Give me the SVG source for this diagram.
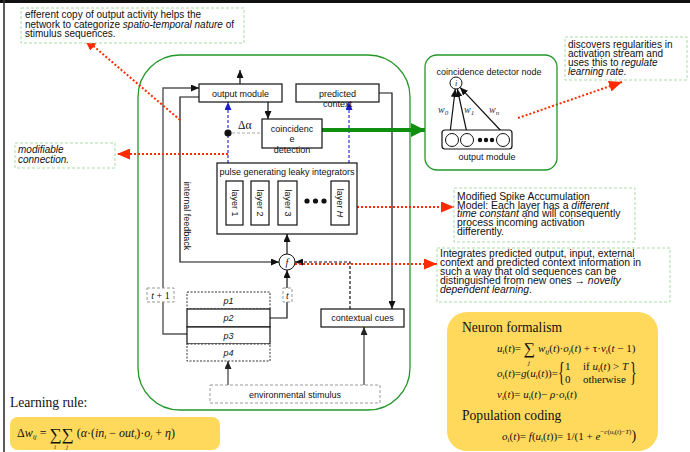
<svg xmlns="http://www.w3.org/2000/svg" width="690" height="452" viewBox="0 0 690 452">
<defs>
<style>
.lbl{font-family:"Liberation Sans",Arial,sans-serif;font-size:9px;fill:#111}
.co{font-family:"Liberation Sans",Arial,sans-serif;font-size:10px;fill:#111}
.co2{font-family:"Liberation Sans",Arial,sans-serif;font-size:10.4px;fill:#111}
.box{fill:#fff;stroke:#111;stroke-width:1.2}
.dbox{fill:#fff;stroke:#333;stroke-width:1;stroke-dasharray:2 1.5}
.gbox{fill:#fff;stroke:#999;stroke-width:1;stroke-dasharray:3 2}
.call{fill:#fff;stroke:#a9dca9;stroke-width:1;stroke-dasharray:3 2}
.frame{fill:none;stroke:#23982a;stroke-width:1.3}
.eq{font-family:"Liberation Serif","Times New Roman",serif;font-size:11px;fill:#111}
.ttl{font-family:"Liberation Serif","Times New Roman",serif;font-size:13.6px;fill:#111}
.it{font-style:italic}
.sb{font-size:7px}
.red{stroke:#ff2a00;stroke-width:2;stroke-dasharray:2 2;fill:none}
.blu{stroke:#1c1cd0;stroke-width:1.1;stroke-dasharray:3 2;fill:none}
.ln{stroke:#111;stroke-width:1.2;fill:none}
.gl{stroke:#555;stroke-width:1.4;fill:none}
.yel{fill:#FFD95C;stroke:none}
</style>
<marker id="ab" viewBox="0 0 8 7" refX="8" refY="3.5" markerWidth="8" markerHeight="7" markerUnits="userSpaceOnUse" orient="auto"><path d="M0,0 L8,3.5 L0,7 z" fill="#111"/></marker>
<marker id="ag" viewBox="0 0 8 7" refX="8" refY="3.5" markerWidth="8" markerHeight="7" markerUnits="userSpaceOnUse" orient="auto"><path d="M0,0 L8,3.5 L0,7 z" fill="#222"/></marker>
<marker id="abl" viewBox="0 0 8 7" refX="8" refY="3.5" markerWidth="8" markerHeight="7" markerUnits="userSpaceOnUse" orient="auto"><path d="M0,0 L8,3.5 L0,7 z" fill="#1c1cd0"/></marker>
<marker id="ar" viewBox="0 0 13 11" refX="13" refY="5.5" markerWidth="13" markerHeight="11" markerUnits="userSpaceOnUse" orient="auto"><path d="M0,0 L13,5.5 L0,11 z" fill="#ff2a00"/></marker>
<marker id="agr" viewBox="0 0 14 14" refX="14" refY="7" markerWidth="14" markerHeight="14" markerUnits="userSpaceOnUse" orient="auto"><path d="M0,0 L14,7 L0,14 z" fill="#0f8f0f"/></marker>
</defs>
<rect x="0" y="0" width="690" height="452" fill="#fff"/>
<rect x="0" y="0" width="690" height="3" fill="#111"/>
<line x1="4" y1="0" x2="4" y2="452" stroke="#333" stroke-width="1.6"/>

<g id="frame"><rect class="frame" x="138" y="55" width="272" height="355" rx="42"/></g>

<g id="connectors">
<path class="ln" d="M240,84 L240,70" marker-end="url(#ab)"/>
<path class="ln" d="M268,102 L268,119" marker-end="url(#ab)"/>
<path class="ln" d="M379,93 L392,93 L392,309" marker-end="url(#ab)"/>
<path class="ln" d="M199,97 L180,97 L180,262 L279,262" marker-end="url(#ab)"/>
<path class="gl" d="M187,334 L163,334 L163,88 L199,88" marker-end="url(#ab)"/>
<path class="ln" d="M270,318 L287,318 L287,270" marker-end="url(#ab)"/>
<path class="ln" d="M287,254 L287,234" marker-end="url(#ab)"/>
<path class="ln" d="M350,309 L350,262 L295,262" stroke-dasharray="3 2" marker-end="url(#ab)"/>
<path class="gl" d="M228,385 L228,361" marker-end="url(#ag)"/>
<path class="gl" d="M364,385 L364,327" marker-end="url(#ag)"/>
<path class="blu" d="M228,163 L228,102" marker-end="url(#abl)"/>
<path class="blu" d="M349,163 L349,102" marker-end="url(#abl)"/>
<path d="M232,133 L261,133" stroke="#aaa" stroke-width="1" stroke-dasharray="3 2" fill="none"/>
<circle cx="228" cy="133" r="3.6" fill="#111"/>
<path d="M314,130 L425,130" stroke="#0f8f0f" stroke-width="4" fill="none" marker-end="url(#agr)"/>
<path class="red" d="M180,120 L84,38" marker-end="url(#ar)"/>
<path class="red" d="M228,154 L117,154" marker-end="url(#ar)"/>
<path class="red" d="M349,207 L454,207" marker-end="url(#ar)"/>
<path class="red" d="M291,264 L437,264" marker-end="url(#ar)"/>
<path class="red" d="M518,118 L622,82" marker-end="url(#ar)"/>
<path class="ln" d="M450,133 L455.3,89" marker-end="url(#ab)"/>
<path class="ln" d="M467,133 L457.3,89" marker-end="url(#ab)"/>
<path class="ln" d="M503,133 L460.1,87.4" marker-end="url(#ab)"/>
</g>

<g id="callout-efferent">
<rect class="call" x="21" y="8" width="223" height="35"/>
<text class="co"><tspan x="25" y="18">efferent copy of output activity helps the</tspan><tspan x="25" y="27.5">network to categorize </tspan><tspan class="it">spatio-temporal nature</tspan><tspan> of</tspan><tspan x="25" y="37">stimulus sequences.</tspan></text>
</g>
<g id="callout-modifiable">
<rect class="call" x="15" y="143" width="100" height="25"/>
<text class="co it"><tspan x="18" y="153">modifiable</tspan><tspan x="18" y="163">connection.</tspan></text>
</g>
<g id="callout-discovers">
<rect class="call" x="565" y="37" width="122" height="43"/>
<text class="co"><tspan x="568" y="48">discovers regularities in</tspan><tspan x="568" y="57">activation stream and</tspan><tspan x="568" y="66">uses this to </tspan><tspan class="it">regulate</tspan><tspan class="it" x="568" y="75">learning rate</tspan><tspan>.</tspan></text>
</g>
<g id="callout-msam">
<rect class="call" x="454" y="188" width="181" height="54"/>
<text class="co2"><tspan x="457" y="200">Modified Spike Accumulation</tspan><tspan x="457" y="208.7">Model: Each layer has a </tspan><tspan class="it">different</tspan><tspan class="it" x="457" y="217.4">time constant</tspan><tspan> and will consequently</tspan><tspan x="457" y="226.1">process incoming activation</tspan><tspan x="457" y="234.8">differently.</tspan></text>
</g>
<g id="callout-integrates">
<rect class="call" x="437" y="248" width="233" height="54"/>
<text class="co2"><tspan x="440" y="257">Integrates predicted output, input, external</tspan><tspan x="440" y="266">context and predicted context information in</tspan><tspan x="440" y="275">such a way that old sequences can be</tspan><tspan x="440" y="284">distinguished from new ones → </tspan><tspan class="it">novelty</tspan><tspan class="it" x="440" y="293">dependent learning</tspan><tspan>.</tspan></text>
</g>

<g id="output-module">
<rect class="box" x="199" y="84" width="83" height="18"/>
<text class="lbl" x="240.5" y="97" text-anchor="middle">output module</text>
</g>
<g id="predicted-context">
<rect class="box" x="296" y="84" width="83" height="18"/>
<text class="lbl" text-anchor="middle"><tspan x="337.5" y="97">predicted</tspan><tspan x="337.5" y="107">context</tspan></text>
</g>
<g id="coincidence-detection">
<rect class="box" x="262" y="119" width="60" height="29"/>
<text class="lbl" text-anchor="middle"><tspan x="292" y="132">coincidenc</tspan><tspan x="292" y="142">e</tspan><tspan x="292" y="152.5">detection</tspan></text>
</g>
<text x="238" y="129" font-family="Liberation Serif,serif" font-size="11.5" fill="#111">Δα</text>

<g id="pulse-integrators">
<rect class="box" x="217" y="163" width="140" height="71"/>
<text class="lbl" x="287" y="175" text-anchor="middle">pulse generating leaky  integrators</text>
<rect class="box" x="226" y="181" width="17" height="44"/>
<rect class="box" x="251" y="181" width="18" height="44"/>
<rect class="box" x="278" y="181" width="19" height="44"/>
<rect class="box" x="331" y="181" width="18" height="44"/>
<text class="lbl" transform="translate(234.5,203) rotate(90)" text-anchor="middle" dominant-baseline="central">layer 1</text>
<text class="lbl" transform="translate(260,203) rotate(90)" text-anchor="middle" dominant-baseline="central">layer 2</text>
<text class="lbl" transform="translate(287.5,203) rotate(90)" text-anchor="middle" dominant-baseline="central">layer 3</text>
<text class="lbl" transform="translate(340,203) rotate(90)" text-anchor="middle" dominant-baseline="central">layer <tspan class="it">H</tspan></text>
<circle cx="307" cy="201" r="2.6" fill="#111"/>
<circle cx="315.5" cy="201" r="2.6" fill="#111"/>
<circle cx="324" cy="201" r="2.6" fill="#111"/>
</g>

<text class="lbl" transform="translate(187,216) rotate(90)" text-anchor="middle" dominant-baseline="central">internal feedback</text>

<g id="f-node">
<circle cx="287" cy="262" r="8" fill="#fff" stroke="#111" stroke-width="1"/>
<text x="287" y="265.5" text-anchor="middle" font-family="Liberation Serif,serif" font-style="italic" font-size="10" fill="#111">f</text>
</g>

<g id="t1-label">
<rect class="gbox" x="147" y="288" width="27" height="14"/>
<text x="160.5" y="298.5" text-anchor="middle" font-family="Liberation Serif,serif" font-size="10" fill="#111"><tspan class="it">t</tspan> + 1</text>
</g>
<g id="t-label">
<rect class="gbox" x="283" y="288" width="9" height="14"/>
<text x="287.5" y="298.5" text-anchor="middle" font-family="Liberation Serif,serif" font-style="italic" font-size="10" fill="#111">t</text>
</g>

<g id="p-stack">
<rect class="dbox" x="187" y="292" width="83" height="17"/>
<rect class="box" x="187" y="309" width="83" height="18"/>
<rect class="box" x="187" y="327" width="83" height="17"/>
<rect class="dbox" x="187" y="344" width="83" height="17"/>
<text class="lbl it" x="228.5" y="304" text-anchor="middle">p1</text>
<text class="lbl it" x="228.5" y="321" text-anchor="middle">p2</text>
<text class="lbl it" x="228.5" y="339" text-anchor="middle">p3</text>
<text class="lbl it" x="228.5" y="356" text-anchor="middle">p4</text>
</g>

<g id="contextual-cues">
<rect class="box" x="321" y="309" width="83" height="18"/>
<text class="lbl" x="362.5" y="321" text-anchor="middle">contextual cues</text>
</g>
<g id="environmental-stimulus">
<rect class="gbox" x="210" y="385" width="170" height="18"/>
<text class="lbl" x="295" y="397.5" text-anchor="middle">environmental stimulus</text>
</g>

<g id="detector-panel">
<rect class="frame" x="425" y="55" width="132" height="115" rx="12"/>
<text class="lbl" x="489" y="75" text-anchor="middle">coincidence detector node</text>
<circle cx="456" cy="83" r="6" fill="#fff" stroke="#111" stroke-width="1"/>
<text x="456" y="86" text-anchor="middle" font-family="Liberation Serif,serif" font-style="italic" font-size="8" fill="#111">i</text>
<text x="438" y="113" font-family="Liberation Serif,serif" font-style="italic" font-size="10" fill="#333">w<tspan font-size="7" dy="2">0</tspan></text>
<text x="464" y="113" font-family="Liberation Serif,serif" font-style="italic" font-size="10" fill="#333">w<tspan font-size="7" dy="2">1</tspan></text>
<text x="489" y="113" font-family="Liberation Serif,serif" font-style="italic" font-size="10" fill="#333">w<tspan font-size="7" dy="2">n</tspan></text>
<rect x="442" y="130" width="70" height="19" rx="3" fill="#fff" stroke="#111" stroke-width="1.2"/>
<circle cx="452" cy="140" r="6.5" fill="#fff" stroke="#111" stroke-width="1"/>
<circle cx="467" cy="140" r="6.5" fill="#fff" stroke="#111" stroke-width="1"/>
<circle cx="480" cy="140" r="2.2" fill="#111"/>
<circle cx="486" cy="140" r="2.2" fill="#111"/>
<circle cx="492" cy="140" r="2.2" fill="#111"/>
<circle cx="503" cy="140" r="6.5" fill="#fff" stroke="#111" stroke-width="1"/>
<text class="lbl" x="487" y="160" text-anchor="middle">output module</text>
</g>

<g id="neuron-formalism">
<rect class="yel" x="447" y="312" width="211" height="139" rx="20"/>
<text class="ttl" x="462" y="332">Neuron formalism</text>
<text class="eq" x="497" y="352"><tspan class="it">u</tspan><tspan class="sb" dy="2">i</tspan><tspan dy="-2">(</tspan><tspan class="it">t</tspan><tspan>)= </tspan><tspan style="font-size:16px" dy="2">∑</tspan><tspan dy="-2"> </tspan><tspan class="it">w</tspan><tspan class="sb it" dy="2">ij</tspan><tspan dy="-2">(</tspan><tspan class="it">t</tspan><tspan>)·</tspan><tspan class="it">o</tspan><tspan class="sb it" dy="2">j</tspan><tspan dy="-2">(</tspan><tspan class="it">t</tspan><tspan>) + τ·</tspan><tspan class="it">v</tspan><tspan class="sb" dy="2">i</tspan><tspan dy="-2">(</tspan><tspan class="it">t</tspan><tspan> − 1)</tspan></text>
<text class="eq it" x="529" y="365" text-anchor="middle" style="font-size:7px">j</text>
<text class="eq" x="497" y="377"><tspan class="it">o</tspan><tspan class="sb" dy="2">i</tspan><tspan dy="-2">(</tspan><tspan class="it">t</tspan><tspan>)=</tspan><tspan class="it">g</tspan><tspan>(</tspan><tspan class="it">u</tspan><tspan class="sb" dy="2">i</tspan><tspan dy="-2">(</tspan><tspan class="it">t</tspan><tspan>))=</tspan></text>
<text class="eq" transform="translate(558,381) scale(0.5,1)" style="font-size:28px">{</text>
<text class="eq"><tspan x="565" y="370">1</tspan><tspan x="583" y="370">if </tspan><tspan class="it">u</tspan><tspan class="sb" dy="2">i</tspan><tspan dy="-2">(</tspan><tspan class="it">t</tspan><tspan>) &gt; </tspan><tspan class="it">T</tspan><tspan x="565" y="383">0</tspan><tspan x="583" y="383">otherwise</tspan></text>
<text class="eq" transform="translate(630,381) scale(0.5,1)" style="font-size:28px">}</text>
<text class="eq" x="497" y="398"><tspan class="it">v</tspan><tspan class="sb" dy="2">i</tspan><tspan dy="-2">(</tspan><tspan class="it">t</tspan><tspan>)= </tspan><tspan class="it">u</tspan><tspan class="sb" dy="2">i</tspan><tspan dy="-2">(</tspan><tspan class="it">t</tspan><tspan>)− </tspan><tspan class="it">ρ</tspan><tspan>·</tspan><tspan class="it">o</tspan><tspan class="sb" dy="2">i</tspan><tspan dy="-2">(</tspan><tspan class="it">t</tspan><tspan>)</tspan></text>
<text class="ttl" x="462" y="420">Population coding</text>
<text class="eq" x="502" y="440"><tspan class="it">o</tspan><tspan class="sb" dy="2">i</tspan><tspan dy="-2">(</tspan><tspan class="it">t</tspan><tspan>)= </tspan><tspan class="it">f</tspan><tspan>(</tspan><tspan class="it">u</tspan><tspan class="sb" dy="2">i</tspan><tspan dy="-2">(</tspan><tspan class="it">t</tspan><tspan>))= 1/(1 + </tspan><tspan class="it">e</tspan><tspan style="font-size:7px" dy="-6">−</tspan><tspan class="it" style="font-size:7px">c</tspan><tspan style="font-size:7px">(</tspan><tspan class="it" style="font-size:7px">u</tspan><tspan style="font-size:5px" dy="1">i</tspan><tspan style="font-size:7px" dy="-1">(</tspan><tspan class="it" style="font-size:7px">t</tspan><tspan style="font-size:7px">)−</tspan><tspan class="it" style="font-size:7px">T</tspan><tspan style="font-size:7px">)</tspan><tspan style="font-size:14px" dy="6">)</tspan></text>
</g>

<g id="learning-rule">
<text class="ttl" x="10" y="407">Learning rule:</text>
<rect class="yel" x="10" y="417" width="210" height="33" rx="8"/>
<text class="eq" x="17" y="437" style="font-size:12px"><tspan>Δ</tspan><tspan class="it">w</tspan><tspan class="sb it" dy="2">ij</tspan><tspan dy="-2"> = </tspan><tspan style="font-size:17px" dy="3">∑∑</tspan><tspan dy="-3"> (</tspan><tspan class="it">α</tspan><tspan>·(</tspan><tspan class="it">in</tspan><tspan class="sb it" dy="2">i</tspan><tspan dy="-2"> − </tspan><tspan class="it">out</tspan><tspan class="sb it" dy="2">i</tspan><tspan dy="-2">)·</tspan><tspan class="it">o</tspan><tspan class="sb it" dy="2">j</tspan><tspan dy="-2"> + </tspan><tspan class="it">η</tspan><tspan>)</tspan></text>
<text class="eq it" x="55" y="449" text-anchor="middle" style="font-size:6px">i</text>
<text class="eq it" x="67" y="449" text-anchor="middle" style="font-size:6px">j</text>
</g>
</svg>
